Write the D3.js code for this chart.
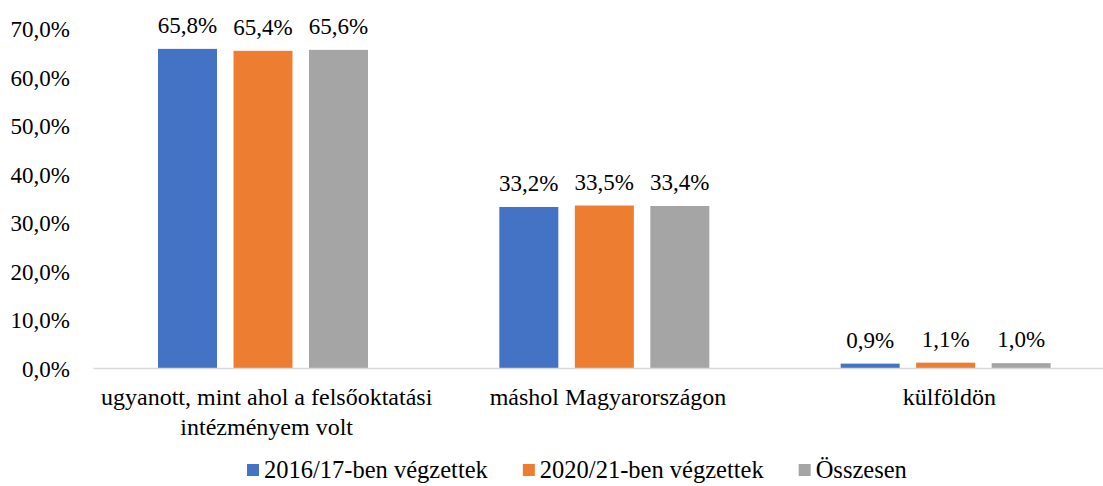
<!DOCTYPE html>
<html>
<head>
<meta charset="utf-8">
<script src="https://cdn.jsdelivr.net/npm/d3@7"></script>
<style>
  html, body { margin: 0; padding: 0; background: #fff; }
  svg { display: block; }
</style>
</head>
<body>
<svg id="chart" width="1103" height="486"></svg>
<script>
// Categories (multi-line labels split by "\n")
const categories = [
  "ugyanott, mint ahol a felsőoktatási\nintézményem volt",
  "máshol Magyarországon",
  "külföldön"
];
const seriesNames = ["2016/17-ben végzettek", "2020/21-ben végzettek", "Összesen"];
const values2016 = [65.8, 33.2, 0.9];
const values2020 = [65.4, 33.5, 1.1];
const valuesTotal = [65.6, 33.4, 1.0];
const yTicks = [0, 10, 20, 30, 40, 50, 60, 70];
const colors = ["#4472C4", "#ED7D31", "#A5A5A5"];

const seriesValues = [values2016, values2020, valuesTotal];
const fmt = v => v.toFixed(1).replace(".", ",") + "%";

const svg = d3.select("#chart");
const FONT = "'Liberation Serif', 'Times New Roman', serif";
const styleText = size => sel => sel.style("font-family", FONT).style("font-size", size + "px").style("fill", "#000");

const x0 = d3.scaleBand().domain(d3.range(categories.length)).range([93, 1117]).padding(0);
const x1 = d3.scaleBand().domain(d3.range(seriesNames.length))
  .range([65, 275]).paddingInner(0.2185).paddingOuter(0);
const y = d3.scaleLinear().domain([0, 70]).range([368, 28.5]);

// Y axis labels (no axis line, no gridlines)
const yAxis = d3.axisLeft(y).tickValues(yTicks).tickFormat(fmt).tickSize(0).tickPadding(0);
const gy = svg.append("g").attr("transform", "translate(70,0)").call(yAxis);
gy.select(".domain").remove();
gy.selectAll("text").call(styleText(23)).attr("dy", "0.35em");

// Bars
const groups = svg.append("g").selectAll("g")
  .data(categories.map((c, i) => i))
  .join("g")
  .attr("transform", i => `translate(${x0(i)},0)`);

groups.selectAll("rect")
  .data(i => seriesValues.map((vals, s) => ({ s, v: vals[i] })))
  .join("rect")
  .attr("x", d => x1(d.s))
  .attr("width", x1.bandwidth())
  .attr("y", d => y(d.v))
  .attr("height", d => y(0) - y(d.v))
  .attr("fill", d => colors[d.s]);

// Value labels
groups.selectAll("text.val")
  .data(i => seriesValues.map((vals, s) => ({ s, v: vals[i] })))
  .join("text")
  .attr("class", "val")
  .attr("x", d => x1(d.s) + x1.bandwidth() / 2)
  .attr("y", d => y(d.v) - 16)
  .attr("text-anchor", "middle")
  .call(styleText(23))
  .text(d => fmt(d.v));

// X axis baseline
const xAxis = d3.axisBottom(x0).tickSize(0).tickFormat("");
const gx = svg.append("g").attr("transform", `translate(0,${y(0)})`).call(xAxis);
gx.select(".domain").attr("stroke", "#D9D9D9").attr("stroke-width", 1.3);

// Category labels
const catG = svg.append("g");
categories.forEach((c, i) => {
  const cx = x0(i) + x0.bandwidth() / 2 + 3;
  const t = catG.append("text")
    .attr("x", cx)
    .attr("y", 405)
    .attr("text-anchor", "middle")
    .call(styleText(24));
  c.split("\n").forEach((line, k) => {
    t.append("tspan").attr("x", cx).attr("dy", k === 0 ? 0 : 30).text(line);
  });
});

// Legend
const legend = svg.append("g");
let lx = 247;
seriesNames.forEach((name, s) => {
  legend.append("rect").attr("x", lx).attr("y", 464).attr("width", 12).attr("height", 12).attr("fill", colors[s]);
  const t = legend.append("text").attr("x", lx + 17).attr("y", 478).call(styleText(24.5)).text(name);
  lx += 17 + t.node().getComputedTextLength() + 35;
});
</script>
</body>
</html>
